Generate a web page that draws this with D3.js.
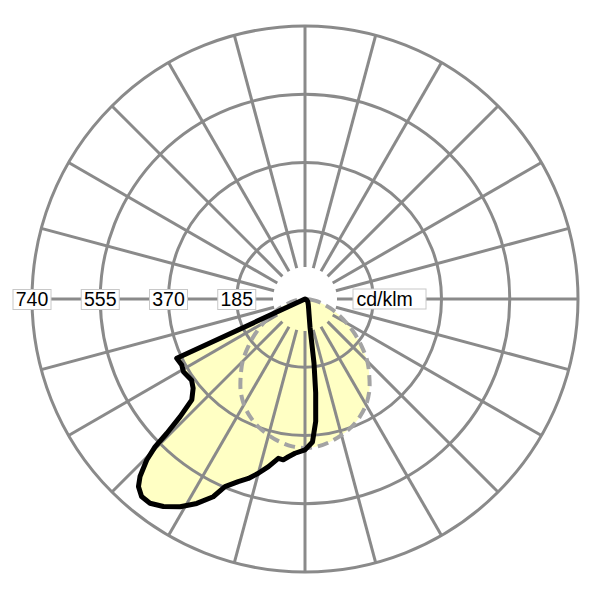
<!DOCTYPE html>
<html>
<head>
<meta charset="utf-8">
<script src="https://cdn.jsdelivr.net/npm/d3@7"></script>
<style>
  html, body { margin: 0; padding: 0; background: #fff; }
  svg { display: block; }
</style>
</head>
<body>
<svg id="chart" width="600" height="600"></svg>
<script>
// ---- data (cd/klm) ----
const tickValues = [185, 370, 555, 740];
const unitLabel = "cd/klm";
const gridAngles = d3.range(0, 360, 15);

// solid curve, left half (gamma measured from nadir towards the left)
const solidLeftGamma = [0, 3.7, 6.0, 7.7, 9.5, 12.3, 15, 17.5, 20.1, 23.1, 24.9, 27.9, 31.0, 34.3, 37.2, 39.6, 41.6, 42.9, 44.5, 45.4, 45.8, 46.7, 48.3, 51.4, 54.4, 59.1, 61.8, 65.2, 70, 90];
const solidLeftValue = [409, 419, 430, 440, 438, 465, 489, 510, 527, 553, 591, 627, 657, 681, 695, 695, 680, 657, 612, 571, 523, 465, 411, 388, 378, 384, 379, 383, 0, 0];
// solid curve, right half
const solidRightGamma = [0, 3, 5, 6.5, 8, 10, 15, 20, 30, 45, 60, 90];
const solidRightValue = [409, 388, 333, 256, 175, 79, 42, 29, 18, 11, 5, 0];
// dashed curve (both halves)
const dashedGamma = [0, 5, 10, 15, 20, 25, 30, 35, 40, 45, 50, 55, 60, 65, 70, 75, 80, 85, 90];
const dashedValue = [404, 401, 393, 382, 369, 352, 331, 304, 271, 239, 201, 165, 130, 100, 73, 49, 30, 14, 0];

// ---- layout ----
const cx = 305, cy = 299, R = 273, rInner = 32;
const svg = d3.select("#chart");
const g = svg.append("g").attr("transform", `translate(${cx},${cy})`);
const r = d3.scaleLinear().domain([0, 740]).range([0, R]);
const rad = d => d * Math.PI / 180;

// build point lists: lineRadial angle is clockwise from 12 o'clock
const solidPts = [];
for (let i = solidRightGamma.length - 1; i >= 0; i--)
  solidPts.push({a: Math.PI - rad(solidRightGamma[i]), v: solidRightValue[i]});
for (let i = 1; i < solidLeftGamma.length; i++)
  solidPts.push({a: Math.PI + rad(solidLeftGamma[i]), v: solidLeftValue[i]});

const dashedPts = [];
for (let i = dashedGamma.length - 1; i >= 0; i--)
  dashedPts.push({a: Math.PI - rad(dashedGamma[i]), v: dashedValue[i]});
for (let i = 1; i < dashedGamma.length; i++)
  dashedPts.push({a: Math.PI + rad(dashedGamma[i]), v: dashedValue[i]});

const solidLine = d3.lineRadial().angle(d => d.a).radius(d => r(d.v)).curve(d3.curveLinearClosed);
const dashedLine = d3.lineRadial().angle(d => d.a).radius(d => r(d.v)).curve(d3.curveCatmullRomClosed.alpha(0.5));

const fillColor = "#ffffc4";
// fills
g.append("path").attr("d", dashedLine(dashedPts)).attr("fill", fillColor).attr("stroke", "none");
g.append("path").attr("d", solidLine(solidPts)).attr("fill", fillColor).attr("stroke", "none");

// grid
const gridColor = "#8a8a8a";
g.selectAll("line.radial").data(gridAngles).enter().append("line")
  .attr("class", "radial")
  .attr("x1", d => rInner * Math.cos(rad(d)))
  .attr("y1", d => rInner * Math.sin(rad(d)))
  .attr("x2", d => R * Math.cos(rad(d)))
  .attr("y2", d => R * Math.sin(rad(d)))
  .attr("stroke", gridColor).attr("stroke-width", 3);
g.selectAll("circle.ring").data(tickValues).enter().append("circle")
  .attr("class", "ring")
  .attr("r", d => r(d))
  .attr("fill", "none").attr("stroke", gridColor).attr("stroke-width", 3);

// tick labels
const font = "Liberation Sans, Arial, Helvetica, sans-serif";
const lab = g.selectAll("g.tick").data(tickValues).enter().append("g")
  .attr("class", "tick")
  .attr("transform", d => `translate(${-r(d)},0)`);
lab.append("rect").attr("x", -19).attr("y", -9.5).attr("width", 38).attr("height", 20)
  .attr("fill", "#fff").attr("stroke", "#c8c8c8").attr("stroke-width", 1);
lab.append("text").text(d => d).attr("x", 0).attr("y", 7)
  .attr("text-anchor", "middle").attr("font-family", font).attr("font-size", 19.5).attr("fill", "#000");

const unit = g.append("g").attr("transform", "translate(48,0)");
unit.append("rect").attr("x", 0).attr("y", -10).attr("width", 73).attr("height", 20)
  .attr("fill", "#fff").attr("stroke", "#c8c8c8").attr("stroke-width", 1);
unit.append("text").text(unitLabel).attr("x", 3.5).attr("y", 6.5)
  .attr("font-family", font).attr("font-size", 19.5).attr("fill", "#000");

// curves
g.append("path").attr("d", dashedLine(dashedPts)).attr("fill", "none")
  .attr("stroke", "#a3a3a3").attr("stroke-width", 4).attr("stroke-dasharray", "11,6");
g.append("path").attr("d", solidLine(solidPts)).attr("fill", "none")
  .attr("stroke", "#000").attr("stroke-width", 5).attr("stroke-linejoin", "round");
</script>
</body>
</html>
